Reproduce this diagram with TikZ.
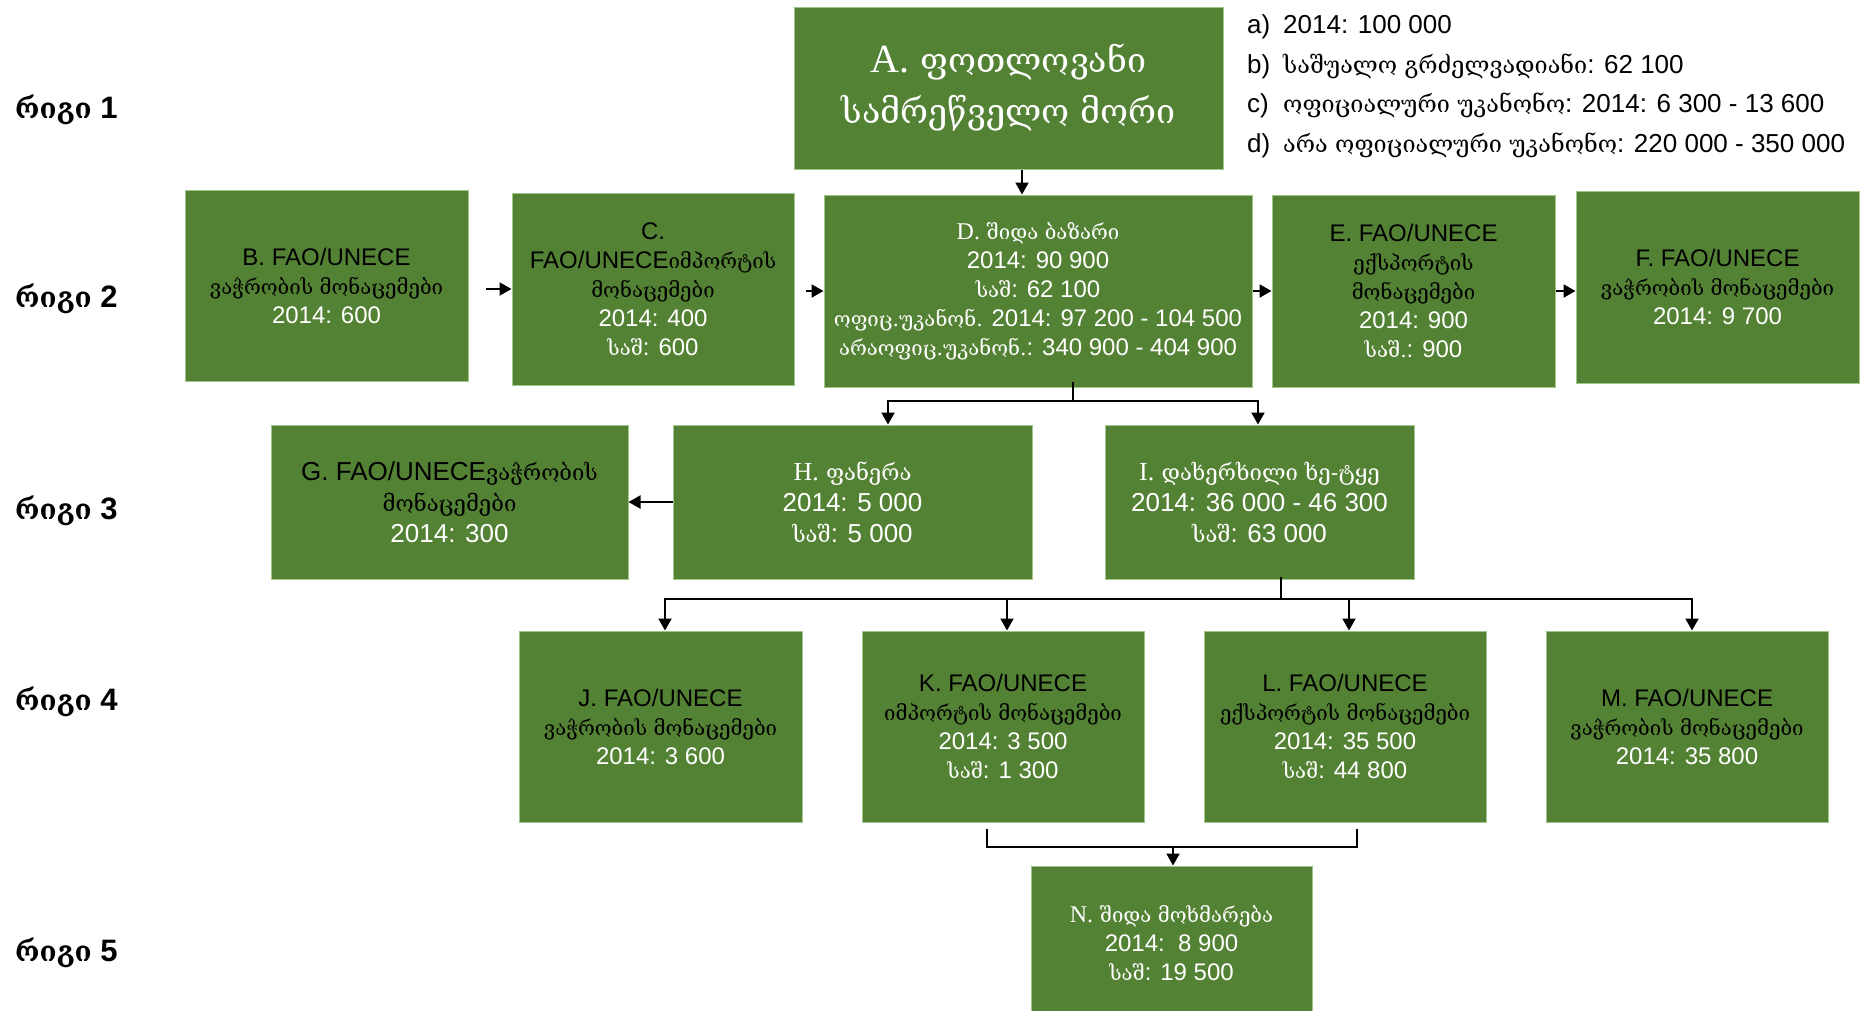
\documentclass[tikz,border=0pt]{standalone}
\usepackage{fontspec}
\usetikzlibrary{arrows.meta,calc}
\setmainfont{Liberation Sans}
\newfontfamily\geofont{DejaVu Serif}[Scale=0.85]
\newfontfamily\geofontl{DejaVu Serif}[Scale=0.9]
\newfontfamily\serifl{Liberation Serif}
\newcommand\geor[1]{{\geofont #1}}
\newcommand\geol[1]{{\geofontl #1}}
\newcommand\bk[1]{\textcolor{black}{#1}}
\definecolor{boxgreen}{RGB}{84,130,53}
\definecolor{boxedge}{RGB}{160,198,140}
\begin{document}
\begin{tikzpicture}[x=1pt,y=-1pt,
  box/.style={draw=boxedge, line width=1pt, fill=boxgreen, text=white, align=center, inner sep=0pt, font=\fontsize{24}{29}\selectfont},
  bigbox/.style={box, font=\fontsize{26}{31}\selectfont},
  conn/.style={line width=2pt, draw=black},
  arr/.style={conn, -{Triangle[length=12pt,width=13pt]}},
  rowlbl/.style={anchor=base west, inner sep=0pt, font=\fontsize{31}{36}\selectfont\bfseries},
  lg/.style={anchor=base west, inner sep=0pt, font=\fontsize{26}{30}\selectfont}]
\useasboundingbox (0,0) rectangle (1873,1010);
\clip (0,0) rectangle (1873,1010);

% row labels
\node[rowlbl] (r1) at (15,118) {\geol{რიგი} 1};
\node[rowlbl] (r2) at (15,307) {\geol{რიგი} 2};
\node[rowlbl] (r3) at (15,519) {\geol{რიგი} 3};
\node[rowlbl] (r4) at (15,710) {\geol{რიგი} 4};
\node[rowlbl] (r5) at (15,961) {\geol{რიგი} 5};

% legend
\node[lg] (la) at (1247,33) {\makebox[36pt][l]{a)}2014: 100 000};
\node[lg] (lb) at (1247,73) {\makebox[36pt][l]{b)}\geol{საშუალო გრძელვადიანი}: 62 100};
\node[lg] (lc) at (1247,112) {\makebox[36pt][l]{c)}\geol{ოფიციალური უკანონო}: 2014: 6 300 - 13 600};
\node[lg] (ld) at (1247,152) {\makebox[36pt][l]{d)}\geol{არა ოფიციალური უკანონო}: 220 000 - 350 000};

% row 1
\node[box, minimum width=429pt, minimum height=162pt, font=\fontsize{40}{51}\selectfont] (A) at (1008.5,88)
  {{\serifl A.} \geor{ფოთლოვანი}\\ \geor{სამრეწველო მორი}};

% row 2
\node[box, minimum width=283pt, minimum height=191pt] (B) at (326.5,285.5)
  {\bk{B. FAO/UNECE}\\ \bk{\geor{ვაჭრობის მონაცემები}}\\ 2014: 600};
\node[box, minimum width=282pt, minimum height=192pt] (C) at (653,289)
  {\bk{C.}\\ \bk{FAO/UNECE\geor{იმპორტის}}\\ \bk{\geor{მონაცემები}}\\ 2014: 400\\ \geor{საშ}: 600};
\node[box, minimum width=428pt, minimum height=192pt] (D) at (1038,291)
  {{\serifl D.} \geor{შიდა ბაზარი}\\ 2014: 90 900\\ \geor{საშ}: 62 100\\ \geor{ოფიც.უკანონ.} 2014: 97 200 - 104 500\\ \geor{არაოფიც.უკანონ.}: 340 900 - 404 900};
\node[box, minimum width=283pt, minimum height=192pt] (E) at (1413.5,291)
  {\bk{E. FAO/UNECE}\\ \bk{\geor{ექსპორტის}}\\ \bk{\geor{მონაცემები}}\\ 2014: 900\\ \geor{საშ.}: 900};
\node[box, minimum width=283pt, minimum height=192pt] (F) at (1717.5,287)
  {\bk{F. FAO/UNECE}\\ \bk{\geor{ვაჭრობის მონაცემები}}\\ 2014: 9 700};

% row 3
\node[bigbox, minimum width=357pt, minimum height=154pt] (G) at (449.5,502)
  {\bk{G. FAO/UNECE\geor{ვაჭრობის}}\\ \bk{\geor{მონაცემები}}\\ 2014: 300};
\node[bigbox, minimum width=359pt, minimum height=154pt] (H) at (852.5,502)
  {{\serifl H.} \geor{ფანერა}\\ 2014: 5 000\\ \geor{საშ}: 5 000};
\node[bigbox, minimum width=309pt, minimum height=154pt] (I) at (1259.5,502)
  {{\serifl I.} \geor{დახერხილი ხე-ტყე}\\ 2014: 36 000 - 46 300\\ \geor{საშ}: 63 000};

% row 4
\node[box, minimum width=283pt, minimum height=191pt] (J) at (660.5,726.5)
  {\bk{J. FAO/UNECE}\\ \bk{\geor{ვაჭრობის მონაცემები}}\\ 2014: 3 600};
\node[box, minimum width=282pt, minimum height=191pt] (K) at (1003,726.5)
  {\bk{K. FAO/UNECE}\\ \bk{\geor{იმპორტის მონაცემები}}\\ 2014: 3 500\\ \geor{საშ}: 1 300};
\node[box, minimum width=282pt, minimum height=191pt] (L) at (1345,726.5)
  {\bk{L. FAO/UNECE}\\ \bk{\geor{ექსპორტის მონაცემები}}\\ 2014: 35 500\\ \geor{საშ}: 44 800};
\node[box, minimum width=282pt, minimum height=191pt] (M) at (1687,726.5)
  {\bk{M. FAO/UNECE}\\ \bk{\geor{ვაჭრობის მონაცემები}}\\ 2014: 35 800};

% row 5
\node[box, minimum width=281pt, minimum height=154pt] (N) at (1171.5,943)
  {{\serifl N.} \geor{შიდა მოხმარება}\\ 2014:\ \ 8 900\\ \geor{საშ}: 19 500};

% connector coordinates
\coordinate (ad) at (1022,0);
\coordinate (dv) at (1073,401);
\coordinate (hx) at (888,0);
\coordinate (ix) at (1258,0);
\coordinate (iv) at (1281,599);
\coordinate (jx) at (665,0);
\coordinate (kx) at (1007,0);
\coordinate (lx) at (1349,0);
\coordinate (mx) at (1692,0);
\coordinate (kb) at (987,847);
\coordinate (lbk) at (1357,847);
\coordinate (nx) at (1173,0);

% connectors
\draw[arr] (A.south -| ad) -- (D.north -| ad);
\draw[arr, shorten <=17pt] (B.east |- C.west) -- (C.west);
\draw[arr, shorten <=11pt] (C.east |- D.west) -- (D.west);
\draw[arr] (D.east) -- (E.west);
\draw[arr] (E.east) -- (E.east -| F.west);
\draw[arr] (H.west) -- (G.east);
\draw[conn] ([yshift=6pt]D.south -| dv) -- (dv);
\draw[arr] (dv) -| (H.north -| hx);
\draw[arr] (dv) -| (I.north -| ix);
\draw[conn] ([yshift=3pt]I.south -| iv) -- (iv);
\draw[arr] (iv) -| (J.north -| jx);
\draw[arr] (iv) -| (K.north -| kx);
\draw[arr] (iv) -| (L.north -| lx);
\draw[arr] (iv) -| (M.north -| mx);
\draw[conn, line width=2.5pt] ([yshift=-6pt]K.south -| kb) -- (kb) -- (lbk) -- ([yshift=-6pt]L.south -| lbk);
\draw[arr] (kb -| nx) -- (N.north -| nx);
\end{tikzpicture}
\end{document}
